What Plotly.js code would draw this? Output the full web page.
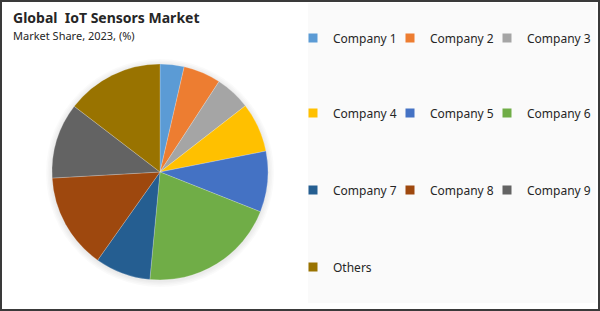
<!DOCTYPE html>
<html>
<head>
<meta charset="utf-8">
<script src="https://cdn.plot.ly/plotly-3.0.1.min.js"></script>
<style>html,body{margin:0;padding:0;background:#fff;}#chart{width:600px;height:311px;}</style>
</head>
<body>
<div id="chart"></div>
<script>
const categories = ["Company 1","Company 2","Company 3","Company 4","Company 5","Company 6","Company 7","Company 8","Company 9","Others"];
const shares = [3.6, 5.6, 5.3, 7.4, 9.1, 20.5, 8.3, 14.3, 11.3, 14.6];
const colors = ["#5B9BD5","#ED7D31","#A5A5A5","#FFC000","#4472C4","#70AD47","#255E91","#9E480E","#636363","#997300"];

const W = 600, H = 311;
const px = v => v / W;
const py = v => 1 - v / H;
const FONT = "Noto Sans, Open Sans, sans-serif";

const traces = [{
  type: "pie",
  labels: categories,
  values: shares,
  sort: false,
  direction: "clockwise",
  rotation: 0,
  textinfo: "none",
  hoverinfo: "label+percent",
  showlegend: false,
  marker: {colors: colors, line: {color: "rgba(255,255,255,0.35)", width: 0.6}},
  domain: {x: [px(52), px(268)], y: [py(280), py(64)]}
}];

// soft shadow rings behind the pie (decoration)
const shadow = [];
[6, 4.5, 3, 1.5].forEach(d => {
  shadow.push({type: "circle", xref: "paper", yref: "paper", layer: "below",
    x0: px(160 - 108 - d), x1: px(160 + 108 + d), y0: py(172 + 108 + d + 1), y1: py(172 - 108 - d + 1),
    fillcolor: "rgba(0,0,0,0.018)", line: {width: 0}});
});

// legend grid: 3 columns, one small legend per entry
const colX = [293, 390, 487];
const rowY = [38, 113, 190, 267];
const layout = {
  width: W, height: H,
  margin: {l: 0, r: 0, t: 0, b: 0},
  paper_bgcolor: "#ffffff", plot_bgcolor: "rgba(0,0,0,0)",
  xaxis: {visible: false}, yaxis: {visible: false},
  shapes: [
    {type: "rect", xref: "paper", yref: "paper", x0: px(308), x1: px(596), y0: py(303), y1: py(3),
     fillcolor: "#fafafa", line: {width: 0}, layer: "below"},
    ...shadow,
    {type: "rect", xref: "paper", yref: "paper", x0: px(1), x1: px(599), y0: py(310), y1: py(1),
     fillcolor: "rgba(0,0,0,0)", line: {color: "#3a3a3a", width: 2}}
  ],
  annotations: [
    {text: "<b>Global  IoT Sensors Market</b>", xref: "paper", yref: "paper", x: px(11), y: py(17),
     xanchor: "left", yanchor: "middle", showarrow: false, font: {family: FONT, size: 14, color: "#262626"}},
    {text: "Market Share, 2023, (%)", xref: "paper", yref: "paper", x: px(11), y: py(36),
     xanchor: "left", yanchor: "middle", showarrow: false, font: {family: FONT, size: 11, color: "#262626"}}
  ]
};

categories.forEach((c, i) => {
  const key = i === 0 ? "legend" : "legend" + (i + 1);
  traces.push({
    type: "scatter", mode: "markers", x: [null], y: [null],
    name: c, legend: key, showlegend: true, hoverinfo: "skip",
    marker: {symbol: "square", size: 9, color: colors[i]}
  });
  layout[key] = {
    orientation: "h", x: px(colX[i % 3]), xanchor: "left",
    y: py(rowY[Math.floor(i / 3)]), yanchor: "middle",
    bgcolor: "rgba(0,0,0,0)", borderwidth: 0,
    font: {family: FONT, size: 12, color: "#262626"},
    itemclick: false, itemdoubleclick: false
  };
});

Plotly.newPlot("chart", traces, layout, {displayModeBar: false});
</script>
</body>
</html>
